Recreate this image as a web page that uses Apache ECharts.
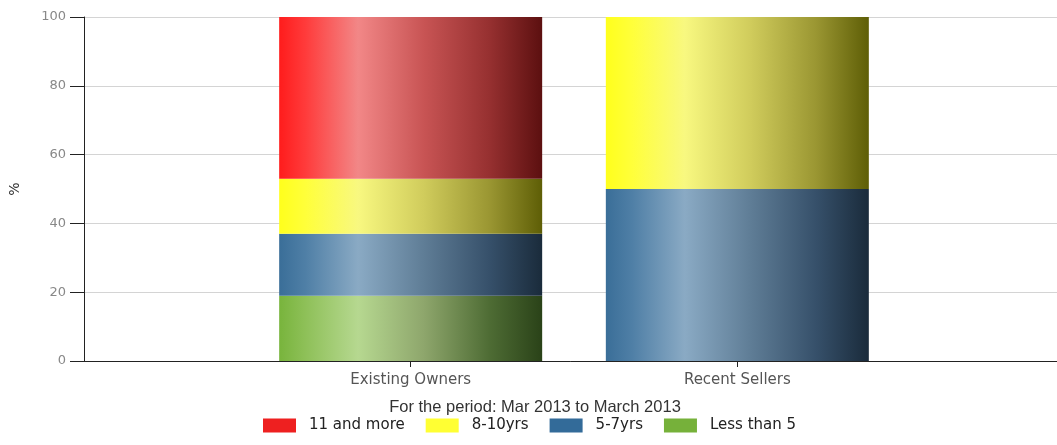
<!DOCTYPE html>
<html>
<head>
<meta charset="utf-8">
<script src="https://cdn.jsdelivr.net/npm/echarts@6/dist/echarts.min.js"></script>
<style>
  html, body { margin: 0; padding: 0; background: #fff; }
  #chart { width: 1057px; height: 445px; }
</style>
</head>
<body>
<div id="chart"></div>
<script>
// Ownership duration breakdown, in percent
const categories = ['Existing Owners', 'Recent Sellers'];
const seriesNames = ['11 and more', '8-10yrs', '5-7yrs', 'Less than 5'];
const lessThan5 = [19, 0];
const yrs5to7 = [18, 50];
const yrs8to10 = [16, 50];
const elevenPlus = [47, 0];
const yTicks = [0, 20, 40, 60, 80, 100];
const subtitle = 'For the period: Mar 2013 to March 2013';

// Empty slots either side keep the two bars inset from the plot edges
const axisSlots = [''].concat(categories, ['']);
const pad = arr => [null].concat(arr, [null]);

// Cylinder-like horizontal shading per segment
function shade(stops) {
  return {
    type: 'linear', x: 0, y: 0, x2: 1, y2: 0,
    colorStops: stops.map(s => ({ offset: s[0], color: s[1] }))
  };
}
const fills = {
  '11 and more': shade([[0, '#ff1c1c'], [0.1, '#ff3b3b'], [0.3, '#f28787'], [0.55, '#c85454'], [0.8, '#963030'], [1, '#5c1010']]),
  '8-10yrs': shade([[0, '#ffff1c'], [0.1, '#ffff3a'], [0.3, '#f8f880'], [0.55, '#d0cc5c'], [0.8, '#9a9632'], [1, '#5e5e06']]),
  '5-7yrs': shade([[0, '#3a6e98'], [0.1, '#4f7fa6'], [0.3, '#8aaac4'], [0.55, '#5f7d96'], [0.8, '#36506a'], [1, '#1a2b3b']]),
  'Less than 5': shade([[0, '#78b43c'], [0.1, '#8ec058'], [0.3, '#b6d890'], [0.55, '#8ea66c'], [0.8, '#4e6c34'], [1, '#2a4218']])
};
const legendColors = {
  '11 and more': '#ee2020',
  '8-10yrs': '#ffff33',
  '5-7yrs': '#336b99',
  'Less than 5': '#76b13a'
};
const valuesByName = {
  'Less than 5': lessThan5,
  '5-7yrs': yrs5to7,
  '8-10yrs': yrs8to10,
  '11 and more': elevenPlus
};
// Stack from the bottom up
const stackOrder = ['Less than 5', '5-7yrs', '8-10yrs', '11 and more'];

const chart = echarts.init(document.getElementById('chart'), null, { renderer: 'canvas' });

chart.setOption({
  animation: false,
  backgroundColor: '#ffffff',
  title: {
    text: subtitle,
    left: 535,
    textAlign: 'center',
    top: 399,
    padding: 0,
    textStyle: { fontFamily: 'Liberation Sans', fontSize: 16.5, fontWeight: 'normal', color: '#333' }
  },
  legend: {
    data: seriesNames.map(n => ({ name: n, itemStyle: { color: legendColors[n] } })),
    left: 263,
    top: 418,
    padding: 0,
    itemWidth: 33,
    itemHeight: 14,
    itemGap: 21,
    icon: 'rect',
    textStyle: { fontFamily: 'DejaVu Sans', fontSize: 15, color: '#222', padding: [0, 0, 0, 8] }
  },
  grid: { left: 84, width: 980, top: 17, bottom: 84, containLabel: false, outerBoundsMode: 'none' },
  xAxis: {
    type: 'category',
    data: axisSlots,
    boundaryGap: false,
    splitLine: { show: false },
    axisLine: { show: true, lineStyle: { color: '#222', width: 1 } },
    axisTick: {
      show: true,
      length: 6,
      interval: (i) => i > 0 && i <= categories.length,
      lineStyle: { color: '#222' }
    },
    axisLabel: {
      interval: 0,
      color: '#555',
      fontFamily: 'DejaVu Sans',
      fontSize: 15,
      margin: 12
    }
  },
  yAxis: {
    type: 'value',
    min: 0,
    max: 100,
    interval: 20,
    name: '%',
    nameLocation: 'middle',
    nameGap: 62,
    nameRotate: 90,
    nameTextStyle: { color: '#333', fontFamily: 'DejaVu Sans', fontSize: 14 },
    axisLine: { show: true, lineStyle: { color: '#222', width: 1 } },
    axisTick: { show: true, length: 14, lineStyle: { color: '#222' } },
    axisLabel: {
      formatter: v => (yTicks.indexOf(v) >= 0 ? String(v) : ''),
      color: '#888',
      fontFamily: 'DejaVu Sans',
      fontSize: 13,
      margin: 18
    },
    splitLine: { show: true, lineStyle: { color: '#d4d4d4', width: 1 } }
  },
  series: stackOrder.map(name => ({
    name: name,
    type: 'bar',
    stack: 'total',
    barWidth: 263,
    itemStyle: { color: fills[name] },
    emphasis: { disabled: true },
    data: pad(valuesByName[name])
  }))
});
</script>
</body>
</html>
